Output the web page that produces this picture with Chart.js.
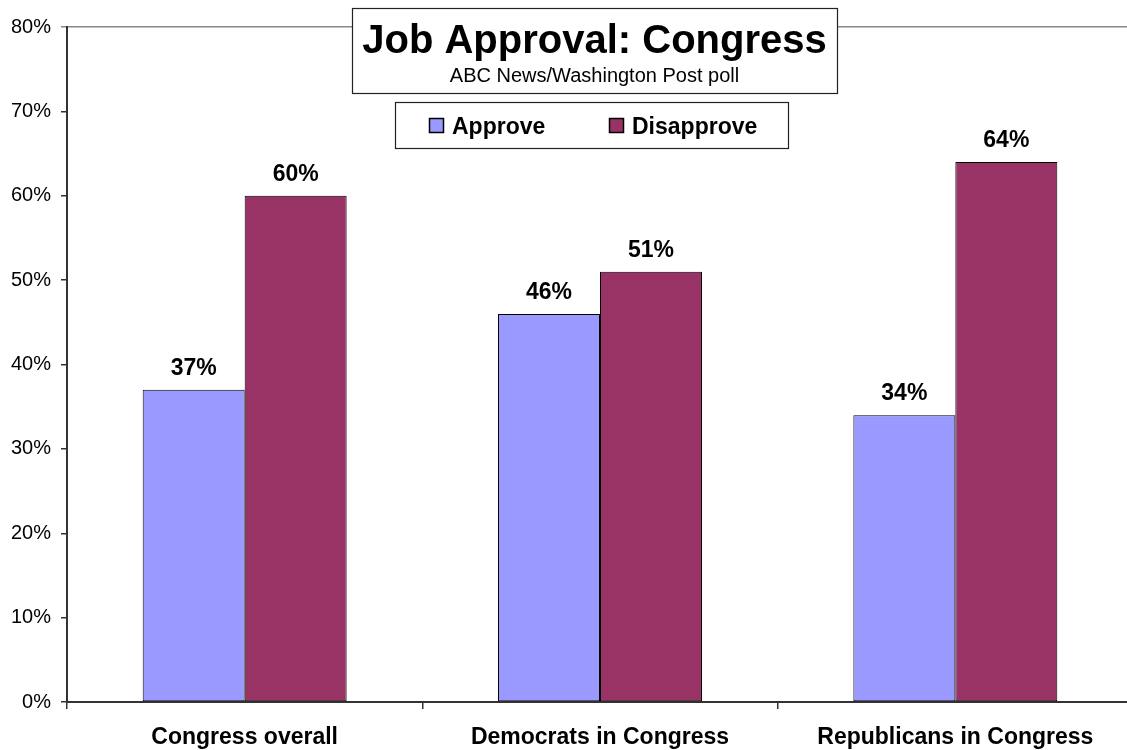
<!DOCTYPE html>
<html>
<head>
<meta charset="utf-8">
<script src="https://cdn.jsdelivr.net/npm/chart.js@4.4.1/dist/chart.umd.min.js"></script>
<style>
  html, body { margin: 0; padding: 0; background: #fff; overflow: hidden; }
  #wrap { position: relative; width: 1138px; height: 750px; }
</style>
</head>
<body>
<div id="wrap"><canvas id="c"></canvas></div>
<script>
const categories = ['Congress overall', 'Democrats in Congress', 'Republicans in Congress'];
const approve = [37, 46, 34];
const disapprove = [60, 51, 64];
const seriesNames = ['Approve', 'Disapprove'];
const seriesColors = ['#9999FF', '#993366'];
const titleText = 'Job Approval: Congress';
const subtitleText = 'ABC News/Washington Post poll';
const yTicks = [0, 10, 20, 30, 40, 50, 60, 70, 80];

const FONT = '"Liberation Sans", Arial, sans-serif';

const dataLabels = {
  id: 'dataLabels',
  afterDatasetsDraw(chart) {
    const ctx = chart.ctx;
    ctx.save();
    ctx.font = 'bold 23px ' + FONT;
    ctx.fillStyle = '#000';
    ctx.textAlign = 'center';
    ctx.textBaseline = 'alphabetic';
    chart.data.datasets.forEach((ds, i) => {
      const meta = chart.getDatasetMeta(i);
      meta.data.forEach((el, j) => {
        ctx.fillText(ds.data[j] + '%', el.x, el.y - 15);
      });
    });
    ctx.restore();
  }
};

const titleLegend = {
  id: 'titleLegend',
  afterDraw(chart) {
    const ctx = chart.ctx;
    ctx.save();
    // Title box
    ctx.fillStyle = '#fff';
    ctx.fillRect(352, 8, 485, 85);
    ctx.strokeStyle = '#222';
    ctx.lineWidth = 1.2;
    ctx.strokeRect(352.5, 8.5, 485, 85);
    ctx.fillStyle = '#000';
    ctx.textAlign = 'center';
    ctx.textBaseline = 'alphabetic';
    ctx.font = 'bold 40px ' + FONT;
    ctx.fillText(titleText, 594.5, 53);
    ctx.font = '20px ' + FONT;
    ctx.fillText(subtitleText, 594.5, 82);
    // Legend box
    ctx.fillStyle = '#fff';
    ctx.fillRect(395, 102, 393, 46);
    ctx.strokeRect(395.5, 102.5, 393, 46);
    ctx.font = 'bold 23px ' + FONT;
    ctx.textAlign = 'left';
    ctx.textBaseline = 'alphabetic';
    const starts = [429, 609];
    chart.data.datasets.forEach((ds, i) => {
      const x = starts[i];
      ctx.fillStyle = ds.backgroundColor;
      ctx.fillRect(x, 118, 15, 15);
      ctx.strokeStyle = '#000';
      ctx.lineWidth = 1.5;
      ctx.strokeRect(x + 0.5, 118.5, 14, 14);
      ctx.fillStyle = '#000';
      ctx.fillText(ds.label, x + 23, 133.5);
    });
    ctx.restore();
  }
};

new Chart(document.getElementById('c'), {
  type: 'bar',
  data: {
    labels: categories,
    datasets: [
      { label: seriesNames[0], data: approve, backgroundColor: seriesColors[0], borderColor: '#000', borderWidth: 1, borderSkipped: false },
      { label: seriesNames[1], data: disapprove, backgroundColor: seriesColors[1], borderColor: '#000', borderWidth: 1, borderSkipped: false }
    ]
  },
  options: {
    responsive: true,
    maintainAspectRatio: false,
    animation: false,
    devicePixelRatio: 1,
    layout: { padding: { top: 27, right: 5, left: 0, bottom: 0 } },
    datasets: { bar: { categoryPercentage: 0.574, barPercentage: 1.0 } },
    plugins: {
      legend: { display: false },
      title: { display: false },
      tooltip: { enabled: false }
    },
    scales: {
      x: {
        offset: true,
        grid: {
          offset: true,
          drawOnChartArea: false,
          drawTicks: true,
          tickLength: 7,
          tickColor: '#333',
          lineWidth: 1.5
        },
        border: { display: true, color: '#333', width: 2 },
        ticks: {
          color: '#000',
          padding: 15,
          maxRotation: 0,
          font: { family: FONT, size: 23, weight: 'bold' }
        },
        afterFit(scale) { scale.height = 48; }
      },
      y: {
        min: 0,
        max: 80,
        afterBuildTicks(scale) { scale.ticks = yTicks.map(v => ({ value: v })); },
        grid: {
          drawOnChartArea: true,
          color: (c) => (c.tick && c.tick.value === 80) ? '#888' : 'rgba(0,0,0,0)',
          tickColor: (c) => (c.tick && c.tick.value === 80) ? '#888' : '#333',
          tickLength: 6,
          lineWidth: 1.5
        },
        border: { display: true, color: '#333', width: 2 },
        ticks: {
          color: '#000',
          padding: 10,
          font: { family: FONT, size: 20 },
          callback: (v) => v + '%'
        },
        afterFit(scale) { scale.width = 67; }
      }
    }
  },
  plugins: [dataLabels, titleLegend]
});
</script>
</body>
</html>
